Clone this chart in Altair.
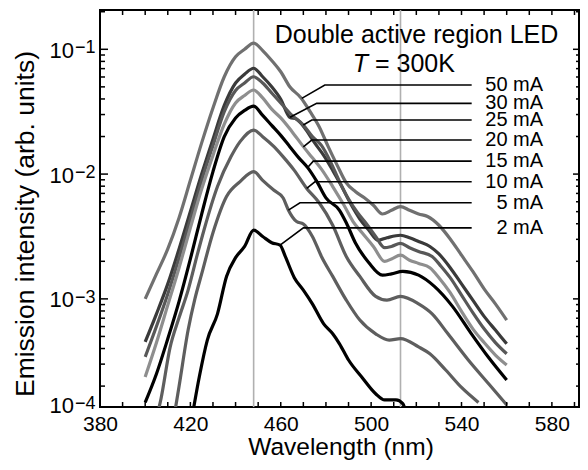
import altair as alt
import pandas as pd

# ---------------- data ----------------
currents = ["50 mA", "30 mA", "25 mA", "20 mA", "15 mA", "10 mA", "5 mA", "2 mA"]

wl_50 = [400, 405, 410, 415, 420, 425, 430, 435, 440, 444, 448, 452, 456, 460, 464, 469, 473, 477, 481, 485, 489, 493, 497, 501, 505, 509, 513, 517, 521, 525, 530, 535, 540, 545, 550, 555, 560]
lg_50 = [-3.00, -2.80, -2.60, -2.35, -2.05, -1.75, -1.47, -1.22, -1.06, -1.00, -0.95, -1.01, -1.09, -1.18, -1.30, -1.39, -1.50, -1.62, -1.78, -1.93, -2.07, -2.14, -2.19, -2.25, -2.32, -2.29, -2.26, -2.29, -2.32, -2.34, -2.41, -2.52, -2.65, -2.78, -2.92, -3.04, -3.17]

wl_30 = [400, 405, 410, 415, 420, 425, 430, 435, 440, 444, 448, 452, 456, 460, 464, 467, 471, 475, 479, 483, 487, 491, 495, 499, 503, 507, 513, 517, 521, 526, 530, 535, 540, 545, 550, 555, 560]
lg_30 = [-3.345, -3.12, -2.88, -2.60, -2.30, -2.00, -1.72, -1.45, -1.27, -1.20, -1.152, -1.22, -1.30, -1.40, -1.545, -1.56, -1.64, -1.75, -1.85, -1.97, -2.10, -2.24, -2.36, -2.45, -2.53, -2.51, -2.49, -2.51, -2.54, -2.58, -2.64, -2.75, -2.88, -3.01, -3.14, -3.25, -3.36]

wl_25 = [400, 405, 410, 415, 420, 425, 430, 435, 440, 444, 448, 452, 456, 460, 465, 470, 474, 478, 482, 486, 490, 494, 498, 502, 506, 509, 513, 517, 521, 527, 531, 535, 540, 545, 550, 555, 560]
lg_25 = [-3.465, -3.22, -2.96, -2.67, -2.36, -2.05, -1.77, -1.50, -1.33, -1.27, -1.22, -1.27, -1.35, -1.43, -1.53, -1.607, -1.70, -1.77, -1.90, -2.06, -2.20, -2.31, -2.40, -2.50, -2.59, -2.58, -2.556, -2.59, -2.62, -2.66, -2.74, -2.83, -2.97, -3.11, -3.24, -3.35, -3.44]

wl_20 = [400, 405, 410, 415, 420, 425, 430, 435, 440, 444, 448, 452, 456, 460, 465, 470, 474, 478, 483, 488, 492, 496, 501, 506, 509, 513, 517, 521, 526, 530, 535, 540, 545, 550, 555, 560]
lg_20 = [-3.626, -3.35, -3.05, -2.75, -2.43, -2.12, -1.85, -1.60, -1.43, -1.37, -1.326, -1.39, -1.48, -1.55, -1.66, -1.78, -1.87, -1.96, -2.10, -2.25, -2.38, -2.47, -2.58, -2.70, -2.68, -2.65, -2.69, -2.716, -2.75, -2.83, -2.95, -3.10, -3.24, -3.35, -3.45, -3.53]

wl_15 = [400, 405, 410, 415, 420, 425, 430, 435, 440, 444, 448, 452, 456, 460, 464, 468, 472, 476, 480, 486, 489, 493, 499, 505, 509, 514, 521, 528, 536, 544, 552, 560]
lg_15 = [-3.83, -3.60, -3.32, -3.02, -2.68, -2.32, -1.98, -1.70, -1.55, -1.49, -1.455, -1.53, -1.61, -1.69, -1.78, -1.87, -1.95, -2.06, -2.19, -2.29, -2.39, -2.55, -2.71, -2.81, -2.80, -2.78, -2.81, -2.90, -3.06, -3.27, -3.47, -3.65]

wl_10 = [405.5, 407, 411, 415, 419, 423, 426, 432, 438, 442, 448, 452, 457, 461, 466, 471.5, 477, 483, 489, 495, 502, 507, 513, 521, 527, 534, 543, 552, 560]
lg_10 = [-3.92, -3.80, -3.39, -3.15, -2.93, -2.65, -2.45, -2.10, -1.86, -1.74, -1.647, -1.70, -1.78, -1.86, -1.97, -2.115, -2.23, -2.41, -2.66, -2.82, -2.98, -3.01, -2.98, -3.04, -3.12, -3.28, -3.49, -3.68, -3.85]

wl_5 = [413, 415, 419, 422, 425, 430, 436, 442, 448, 452, 457, 461, 463.4, 467, 470, 474, 478, 483, 489, 495, 502, 508, 513, 521, 526, 533, 540, 547.5]
lg_5 = [-3.92, -3.70, -3.25, -3.00, -2.80, -2.47, -2.18, -2.06, -1.98, -2.05, -2.13, -2.19, -2.289, -2.38, -2.40, -2.50, -2.66, -2.82, -3.01, -3.17, -3.28, -3.33, -3.318, -3.385, -3.44, -3.57, -3.71, -3.83]

wl_2 = [421, 424, 427.5, 432, 436, 440, 444, 448, 452, 456, 459.7, 462, 466, 470, 474, 479, 483, 486, 490, 496, 502, 506, 511, 514, 516]
lg_2 = [-3.92, -3.62, -3.33, -3.12, -2.82, -2.67, -2.58, -2.449, -2.50, -2.55, -2.569, -2.66, -2.83, -2.93, -3.04, -3.20, -3.28, -3.36, -3.49, -3.63, -3.76, -3.81, -3.81, -3.84, -3.95]

series_wl = [wl_50, wl_30, wl_25, wl_20, wl_15, wl_10, wl_5, wl_2]
series_lg = [lg_50, lg_30, lg_25, lg_20, lg_15, lg_10, lg_5, lg_2]

# leader lines: point on curve -> knee -> right end, then the label
lead_curve_wl = [469.3, 464.1, 470.0, 470.0, 472.2, 471.5, 463.4, 459.7]
lead_curve_lg = [-1.393, -1.545, -1.607, -1.781, -1.941, -2.115, -2.289, -2.569]
lead_knee_wl = [479.5, 475.9, 473.7, 473.7, 474.4, 475.1, 468.5, 470.0]
lead_lg = [-1.286, -1.433, -1.567, -1.727, -1.896, -2.062, -2.230, -2.431]
lead_end_wl = 544.5
label_wl = 576.1

ref_wl = [448, 513]

x_labels = [380, 420, 460, 500, 540, 580]
x_ticks = list(range(380, 591, 10))
y_major = [1e-1, 1e-2, 1e-3]
y_minor = [m * 10.0 ** e for e in (-4, -3, -2, -1) for m in range(2, 10) if 1.36e-4 < m * 10.0 ** e < 0.2065]
y_lab_vals = [1e-1, 1e-2, 1e-3]
y_lab_exp = ["\u22121", "\u22122", "\u22123"]
y_bottom_val = [1.36e-4]
y_bottom_exp = ["\u22124"]

# ---------------- styles ----------------
line_colors = ["#707070", "#3a3a3a", "#585858", "#8e8e8e", "#000000", "#5e5e5e", "#5e5e5e", "#000000"]
FONT = "Liberation Sans"
W, H = 479, 397

rows = []
for name, wls, lgs in zip(currents, series_wl, series_lg):
    for i, (w, l) in enumerate(zip(wls, lgs)):
        rows.append({"series": name, "wl": w, "I": 10.0 ** l, "i": i})
df = pd.DataFrame(rows)

lead_rows = []
for name, cw, cl, kw, ll in zip(currents, lead_curve_wl, lead_curve_lg, lead_knee_wl, lead_lg):
    lead_rows.append({"series": name, "wl": cw, "I": 10.0 ** cl, "k": 0})
    lead_rows.append({"series": name, "wl": kw, "I": 10.0 ** ll, "k": 1})
    lead_rows.append({"series": name, "wl": lead_end_wl, "I": 10.0 ** ll, "k": 2})
df_lead = pd.DataFrame(lead_rows)
df_lab = pd.DataFrame({"series": currents, "wl": [label_wl] * 8, "I": [10.0 ** v for v in lead_lg]})

xs = alt.Scale(domain=[380, 592], nice=False, zero=False)
ys = alt.Scale(type="log", domain=[1.36e-4, 0.2065], nice=False)

X = alt.X("wl:Q", scale=xs, axis=alt.Axis(values=x_labels, ticks=False, domain=False, grid=False,
                                          labelFont=FONT, labelFontSize=21, labelColor="black",
                                          labelFlush=False, labelPadding=6, title=None))
Y = alt.Y("I:Q", scale=ys, axis=None)

refs = alt.Chart(pd.DataFrame({"wl": ref_wl})).mark_rule(color="#b0b0b0", strokeWidth=1.6).encode(x=X)

lines = alt.Chart(df).mark_line(strokeWidth=3.2, interpolate="monotone", clip=True).encode(
    x=X, y=Y,
    color=alt.Color("series:N", scale=alt.Scale(domain=currents, range=line_colors), legend=None),
    detail="series:N", order="i:Q")

leaders = alt.Chart(df_lead).mark_line(color="black", strokeWidth=1.6).encode(
    x=X, y=Y, detail="series:N", order="k:Q")

labels = alt.Chart(df_lab).mark_text(align="right", baseline="middle", font=FONT, fontSize=20,
                                     color="black").encode(x=X, y=Y, text="series:N")

title1 = alt.Chart(pd.DataFrame({"wl": [520.1], "I": [0.1125], "t": ["Double active region LED"]})).mark_text(
    align="center", baseline="alphabetic", font=FONT, fontSize=25, color="black").encode(x=X, y=Y, text="t:N")
title_T = alt.Chart(pd.DataFrame({"wl": [498.6], "I": [0.0658], "t": ["T"]})).mark_text(
    align="right", baseline="alphabetic", font=FONT, fontSize=25, fontStyle="italic", color="black").encode(
    x=X, y=Y, text="t:N")
title_v = alt.Chart(pd.DataFrame({"wl": [501.7], "I": [0.0658], "t": ["= 300K"]})).mark_text(
    align="left", baseline="alphabetic", font=FONT, fontSize=25, color="black").encode(x=X, y=Y, text="t:N")

# frame ticks (inward)
df_xt = pd.DataFrame({"wl": x_ticks})
xt_bot = alt.Chart(df_xt).mark_rule(color="black", strokeWidth=1.5).encode(
    x=X, y=alt.value(H), y2=alt.value(H - 5))
xt_top = alt.Chart(df_xt).mark_rule(color="black", strokeWidth=1.5).encode(
    x=X, y=alt.value(0), y2=alt.value(5))
df_ymaj = pd.DataFrame({"I": y_major})
df_ymin = pd.DataFrame({"I": y_minor})
yt_lmaj = alt.Chart(df_ymaj).mark_rule(color="black", strokeWidth=1.5).encode(
    y=Y, x=alt.value(0), x2=alt.value(8))
yt_lmin = alt.Chart(df_ymin).mark_rule(color="black", strokeWidth=1.5).encode(
    y=Y, x=alt.value(0), x2=alt.value(5))
yt_rmaj = alt.Chart(df_ymaj).mark_rule(color="black", strokeWidth=1.5).encode(
    y=Y, x=alt.value(W), x2=alt.value(W - 6))
yt_rmin = alt.Chart(df_ymin).mark_rule(color="black", strokeWidth=1.5).encode(
    y=Y, x=alt.value(W), x2=alt.value(W - 3))

df_ylab = pd.DataFrame({"I": y_lab_vals, "b": ["10"] * 3, "e": y_lab_exp})
df_ybot = pd.DataFrame({"I": y_bottom_val, "b": ["10"], "e": y_bottom_exp})
ylab_base = alt.Chart(df_ylab).mark_text(align="right", baseline="alphabetic", font=FONT, fontSize=22,
                                         color="black", dy=8.5).encode(y=Y, x=alt.value(-26), text="b:N")
ylab_exp = alt.Chart(df_ylab).mark_text(align="left", baseline="alphabetic", font=FONT, fontSize=18,
                                        color="black", dy=4).encode(y=Y, x=alt.value(-25), text="e:N")
ybot_base = alt.Chart(df_ybot).mark_text(align="right", baseline="alphabetic", font=FONT, fontSize=22,
                                         color="black", dy=6).encode(y=Y, x=alt.value(-26), text="b:N")
ybot_exp = alt.Chart(df_ybot).mark_text(align="left", baseline="alphabetic", font=FONT, fontSize=18,
                                        color="black", dy=1.5).encode(y=Y, x=alt.value(-25), text="e:N")

xtitle = alt.Chart(pd.DataFrame({"t": ["Wavelength (nm)"]})).mark_text(
    align="center", baseline="alphabetic", font=FONT, fontSize=24.5, color="black").encode(
    x=alt.value(241), y=alt.value(445), text="t:N")
ytitle = alt.Chart(pd.DataFrame({"t": ["Emission intensity (arb. units)"]})).mark_text(
    align="center", baseline="middle", font=FONT, fontSize=26.5, angle=270, color="black").encode(
    x=alt.value(-74), y=alt.value(214), text="t:N")

chart = alt.layer(
    refs, lines, leaders, labels, title1, title_T, title_v,
    xt_bot, xt_top, yt_lmaj, yt_lmin, yt_rmaj, yt_rmin, ylab_base, ylab_exp, ybot_base, ybot_exp,
    xtitle, ytitle
).properties(
    width=W, height=H,
    autosize=alt.AutoSizeParams(type="none"),
    padding={"left": 92, "top": 2, "right": 1, "bottom": 55},
).configure_view(stroke="black", strokeWidth=2)

chart.save("out.html", embed_options={"renderer": "svg", "actions": False})
